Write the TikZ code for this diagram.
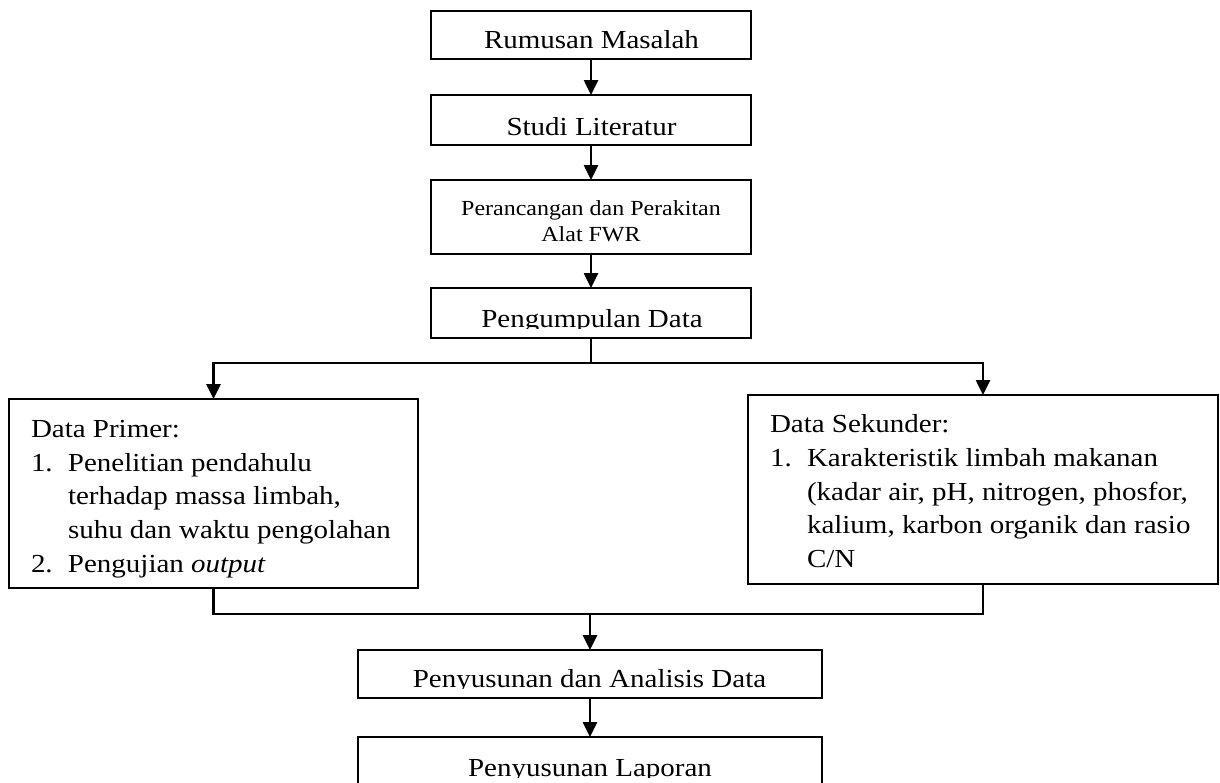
\documentclass[tikz,border=0pt]{standalone}
\usepackage{fontspec}
\setmainfont{Liberation Serif}[FakeStretch=1.115]
\usetikzlibrary{arrows.meta}
\begin{document}
\begin{tikzpicture}[x=1pt,y=-1pt,
  box/.style={draw, line width=2.6pt, rectangle, inner sep=0pt, outer sep=0pt},
  lbl/.style={inner sep=0pt, outer sep=0pt, anchor=base, font=\fontsize{26}{33}\selectfont},
  lbll/.style={lbl, anchor=base west},
  small/.style={lbl, font=\fontsize{21.5}{26}\selectfont},
  link/.style={line width=2.6pt},
  arr/.style={link, -{Triangle[length=15pt,width=14pt]}}]
\useasboundingbox (0,0) rectangle (1220,782);
% boxes
\node[box, minimum width=320pt, minimum height=48pt] (r1) at (591,35) {};
\node[box, minimum width=320pt, minimum height=50pt] (r2) at (591,120) {};
\node[box, minimum width=320pt, minimum height=74pt] (r3) at (591,217) {};
\node[box, minimum width=320pt, minimum height=50pt] (r4) at (591,313) {};
\node[box, minimum width=409pt, minimum height=189pt] (primer) at (213.5,493.5) {};
\node[box, minimum width=470pt, minimum height=189pt] (sek) at (983,489.5) {};
\node[box, minimum width=464pt, minimum height=48pt] (r5) at (590,674) {};
\node[box, minimum width=464pt, minimum height=93pt] (r6) at (590,783.5) {};
% texts
\node[lbl] (t1) at (591.5,48) {Rumusan Masalah};
\node[lbl] (t2) at (591.5,135) {Studi Literatur};
\node[small] (t3a) at (591,215) {Perancangan dan Perakitan};
\node[small] (t3b) at (591,241) {Alat FWR};
\begin{scope}
\clip (432,280) rectangle (752,328.5);
\node[lbl] (t4) at (592,327) {Pengumpulan Data};
\end{scope}
\node[lbll] (p0) at (31,437) {Data Primer:};
\node[lbll] (p1) at (31,471) {\makebox[37pt][l]{1.}Penelitian pendahulu};
\node[lbll] (p2) at (68,504) {terhadap massa limbah,};
\node[lbll] (p3) at (68,538) {suhu dan waktu pengolahan};
\node[lbll] (p4) at (31,572) {\makebox[37pt][l]{2.}Pengujian \textit{output}};
\node[lbll] (s0) at (770,432) {Data Sekunder:};
\node[lbll] (s1) at (770,466) {\makebox[37pt][l]{1.}Karakteristik limbah makanan};
\node[lbll] (s2) at (807,500) {(kadar air, pH, nitrogen, phosfor,};
\node[lbll] (s3) at (807,533) {kalium, karbon organik dan rasio};
\node[lbll] (s4) at (807,567) {C/N};
\begin{scope}
\clip (358,640) rectangle (822,688);
\node[lbl] (t5) at (589.5,687) {Penyusunan dan Analisis Data};
\end{scope}
\begin{scope}
\clip (358,730) rectangle (822,777);
\node[lbl] (t6) at (590,776) {Penyusunan Laporan};
\end{scope}
% connectors
\draw[arr] (r1.south) -- (r2.north);
\draw[arr] (r2.south) -- (r3.north);
\draw[arr] (r3.south) -- (r4.north);
\coordinate (split) at (591,363);
\coordinate (join) at (590,614);
\draw[link] (r4.south) -- (split);
\draw[arr] (split) -| (primer.north);
\draw[arr] (split) -| (sek.north);
\draw[link] (primer.south) |- (join);
\draw[link] (sek.south) |- (join);
\draw[arr] (join) -- (r5.north);
\draw[arr] (r5.south) -- (r6.north);
\end{tikzpicture}
\end{document}
